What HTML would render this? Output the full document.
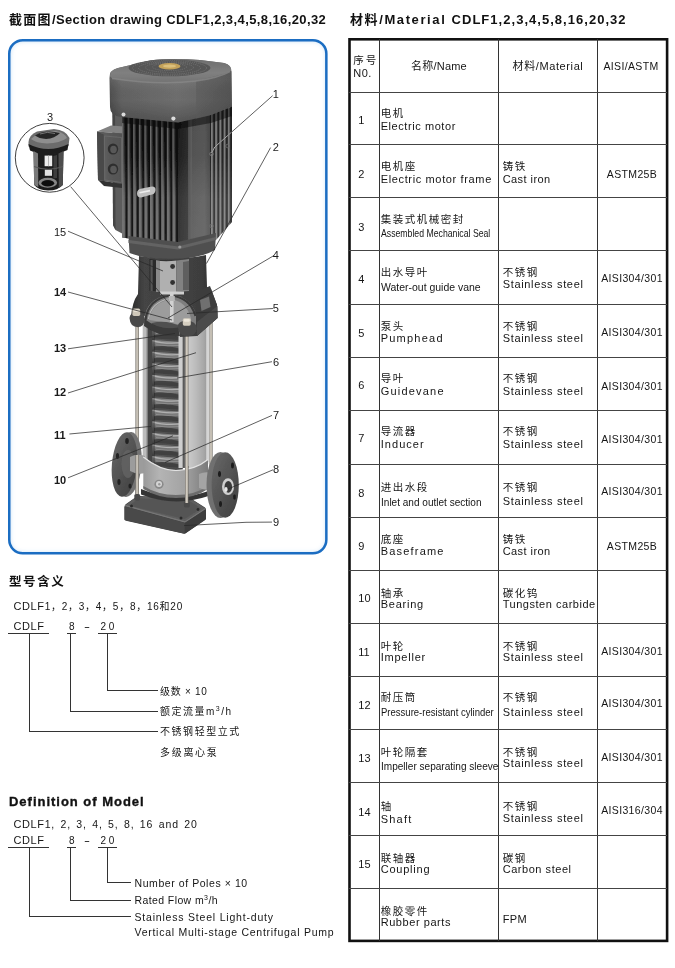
<!DOCTYPE html>
<html lang="zh">
<head>
<meta charset="utf-8">
<title>CDLF Section drawing / Material</title>
<style>
html,body{margin:0;padding:0;background:#fff;}
body{width:675px;height:968px;position:relative;overflow:hidden;color:#111;-webkit-font-smoothing:antialiased;
 font-family:"Liberation Sans","Noto Sans CJK SC",sans-serif;font-size:11px;}
.h1{position:absolute;white-space:nowrap;font-weight:bold;font-size:12.5px;line-height:16px;color:#111;}
#panel{position:absolute;left:9px;top:40px;width:317.5px;height:513.5px;border-radius:13px;background:#fff;box-shadow:inset 0 0 5px 1px rgba(90,160,225,.38);}
#pframe{position:absolute;left:0;top:30px;}
#pump{position:absolute;left:0;top:0;width:340px;height:560px;will-change:transform;}
#tblb{position:absolute;left:345px;top:35px;}
.vl{position:absolute;top:39px;height:902px;width:1px;background:#333;}
.hl{position:absolute;left:349px;width:318px;height:1px;background:#444;}
.c{position:absolute;white-space:nowrap;line-height:12px;font-size:11px;color:#151515;}
.c .zh{display:block;font-size:10.5px;letter-spacing:1.5px;line-height:12px;height:12px;}
.c .en{display:block;font-size:11px;letter-spacing:.55px;line-height:12px;height:12px;}
.c .nar{letter-spacing:0;font-size:11px;transform-origin:0 50%;width:140px;}
.ctr{text-align:center;}
.no{position:absolute;white-space:nowrap;font-size:11px;line-height:12px;color:#151515;}
.as{position:absolute;white-space:nowrap;font-size:10.5px;line-height:12px;color:#151515;letter-spacing:.35px;}
.lt{position:absolute;white-space:nowrap;font-size:11px;line-height:13px;color:#151515;}
.lh{position:absolute;white-space:nowrap;font-weight:bold;font-size:12.5px;line-height:15px;color:#111;}
.ln{position:absolute;background:#333;}
.gl{position:absolute;left:0;top:0;width:675px;height:968px;will-change:transform;}
sup{font-size:7px;line-height:0;vertical-align:4px;}
</style>
</head>
<body>
<div class="gl">
<div class="h1" id="t1" style="left:9px;top:12px;font-size:13px;letter-spacing:.4px;"><span style="letter-spacing:1.3px">截面图</span>/Section drawing CDLF1,2,3,4,5,8,16,20,32</div>
<div class="h1" id="t2" style="left:350px;top:12px;font-size:13px;letter-spacing:1.03px;"><span style="letter-spacing:1.6px">材料/Material </span>CDLF1,2,3,4,5,8,16,20,32</div>
</div>
<div id="panel"></div>
<svg id="pframe" width="340" height="535" viewBox="0 30 340 535"><rect x="9.25" y="40.25" width="317.1" height="513" rx="13.5" ry="13.5" fill="none" stroke="#1b6dc2" stroke-width="2.5"/></svg>
<svg id="pump" viewBox="0 0 340 560" width="340" height="560">
<defs>
 <linearGradient id="gCoverF" x1="0" y1="0" x2="1" y2="0">
  <stop offset="0" stop-color="#4e4e4e"/><stop offset=".1" stop-color="#626262"/><stop offset=".55" stop-color="#6e6e6e"/><stop offset="1" stop-color="#5e5e5e"/>
 </linearGradient>
 <linearGradient id="gCoverR" x1="0" y1="0" x2="1" y2="0">
  <stop offset="0" stop-color="#5a5a5a"/><stop offset="1" stop-color="#464646"/>
 </linearGradient>
 <linearGradient id="gCoverT" x1="0" y1="0" x2="0" y2="1">
  <stop offset="0" stop-color="#6e6e6e"/><stop offset=".6" stop-color="#808080"/><stop offset="1" stop-color="#747474"/>
 </linearGradient>
 <pattern id="fins" x="122" y="0" width="5.6" height="10" patternUnits="userSpaceOnUse">
  <rect width="5.6" height="10" fill="#0e0e0e"/><rect x="0" width="1.6" height="10" fill="#6a6a6a"/><rect x="1.6" width="0.8" height="10" fill="#3a3a3a"/>
 </pattern>
 <pattern id="finsR" x="211" y="0" width="4.2" height="10" patternUnits="userSpaceOnUse">
  <rect width="4.2" height="10" fill="#222"/><rect x="0" width="2" height="10" fill="#7c7c7c"/>
 </pattern>
 <linearGradient id="gPanel" x1="0" y1="0" x2="1" y2="0">
  <stop offset="0" stop-color="#1c1c1c"/><stop offset=".3" stop-color="#2a2a2a"/><stop offset=".42" stop-color="#505050"/><stop offset=".8" stop-color="#565656"/><stop offset="1" stop-color="#444"/>
 </linearGradient>
 <linearGradient id="gBox" x1="0" y1="0" x2="1" y2="0">
  <stop offset="0" stop-color="#4a4a4a"/><stop offset=".15" stop-color="#5e5e5e"/><stop offset="1" stop-color="#525252"/>
 </linearGradient>
 <linearGradient id="gStool" x1="0" y1="0" x2="1" y2="0">
  <stop offset="0" stop-color="#2c2c2c"/><stop offset=".15" stop-color="#444"/><stop offset=".8" stop-color="#3e3e3e"/><stop offset="1" stop-color="#2a2a2a"/>
 </linearGradient>
 <linearGradient id="gSteel" x1="0" y1="0" x2="1" y2="0">
  <stop offset="0" stop-color="#cacaca"/><stop offset=".35" stop-color="#bcbcbc"/><stop offset=".75" stop-color="#a8a8a8"/><stop offset="1" stop-color="#959595"/>
 </linearGradient>
 <linearGradient id="gRod" x1="0" y1="0" x2="1" y2="0">
  <stop offset="0" stop-color="#76726c"/><stop offset=".4" stop-color="#d2ccc2"/><stop offset=".7" stop-color="#c2bcb0"/><stop offset="1" stop-color="#66625c"/>
 </linearGradient>
 <linearGradient id="gCasing" x1="0" y1="0" x2="1" y2="0">
  <stop offset="0" stop-color="#9a9a9a"/><stop offset=".25" stop-color="#b4b4b4"/><stop offset=".65" stop-color="#a2a2a2"/><stop offset="1" stop-color="#7a7a7a"/>
 </linearGradient>
 <linearGradient id="gFlange" x1="0" y1="0" x2="1" y2="1">
  <stop offset="0" stop-color="#686868"/><stop offset="1" stop-color="#3e3e3e"/>
 </linearGradient>
 <linearGradient id="gStack" x1="0" y1="0" x2="1" y2="0">
  <stop offset="0" stop-color="#2a2a2a"/><stop offset=".5" stop-color="#555"/><stop offset="1" stop-color="#2e2e2e"/>
 </linearGradient>
 <filter id="soft" x="-5%" y="-5%" width="110%" height="110%"><feGaussianBlur stdDeviation="0.45"/></filter>

 <pattern id="fins2" x="122" y="0" width="5.6" height="10" patternUnits="userSpaceOnUse">
  <rect width="5.6" height="10" fill="#161616"/><rect x="0" width="3" height="10" fill="#747474"/><rect x="3" width=".8" height="10" fill="#4a4a4a"/>
 </pattern>
 <linearGradient id="gMaskFins" x1="0" y1="120" x2="0" y2="240" gradientUnits="userSpaceOnUse">
  <stop offset="0" stop-color="#000"/><stop offset=".3" stop-color="#222"/><stop offset=".65" stop-color="#ddd"/><stop offset="1" stop-color="#fff"/>
 </linearGradient>
 <mask id="mFins" maskUnits="userSpaceOnUse" x="100" y="100" width="150" height="160"><rect x="100" y="100" width="150" height="160" fill="url(#gMaskFins)"/></mask>
 <linearGradient id="gCoverV" x1="0" y1="80" x2="0" y2="120" gradientUnits="userSpaceOnUse">
  <stop offset="0" stop-color="#fff" stop-opacity=".08"/><stop offset=".5" stop-color="#000" stop-opacity="0"/><stop offset="1" stop-color="#000" stop-opacity=".2"/>
 </linearGradient>
<linearGradient id="gStage" x1="0" y1="0" x2="0" y2="1">
  <stop offset="0" stop-color="#8a8a8a"/><stop offset=".45" stop-color="#6c6c6c"/><stop offset="1" stop-color="#444"/>
 </linearGradient>
</defs>
<g filter="url(#soft)">
<g id="seal">
 <path d="M28.5 142 Q29 135 37 131.5 L54 129 Q66 130 69.5 138 L68.5 146 Q60 150.5 48 151 Q34 150.5 28.5 146.5 Z" fill="#6c6c6c"/>
 <path d="M31 139 Q40 131 56 131 Q65 133 67 138 Q60 143 47 143.5 Q36 143 31 139 Z" fill="#8e8e8e"/>
 <path d="M35 135.5 Q45 129 60 133 Q55 138.5 46 139 Q39 138.5 35 135.5 Z" fill="#262626"/>
 <path d="M40 134 Q47 131 55 133.5" stroke="#777" stroke-width="1" fill="none"/>
 <path d="M28.5 144 Q48 154 68.5 144 L67.5 150 Q48 159 30 150.5 Z" fill="#1e1e1e"/>
 <path d="M33.5 150 Q48 158 63.5 150 L62.8 185 Q58 190.5 48 190.5 Q38 190 34.2 185 Z" fill="#1c1c1c"/>
 <path d="M33.5 151 L38 153.5 L38.3 187 L34.2 185 Z" fill="#7a7a7a"/>
 <path d="M58.5 153.5 L63.5 151 L62.8 185 L58.8 188 Z" fill="#4e4e4e"/>
 <path d="M53.5 156 L57 155 L57 178 L53.5 178.5 Z" fill="#3e3e3e"/>
 <rect x="44.6" y="155.6" width="7.6" height="10.6" fill="#ececec"/>
 <rect x="48" y="155.6" width="1" height="10.6" fill="#b4b4b4"/>
 <rect x="44.8" y="169.6" width="7.2" height="6.2" fill="#e2e2e2"/>
 <path d="M34 166.5 Q48 172 63 166.5" stroke="#5a5a5a" stroke-width="1.1" fill="none"/>
 <ellipse cx="47.8" cy="182.8" rx="9.3" ry="5" fill="#868686"/>
 <ellipse cx="47.8" cy="183.2" rx="6.4" ry="3.2" fill="#101010"/>
</g>

<g id="motor">
 <!-- left side of motor body -->
 <path d="M112.5 110 L123 112 L123 234 L115.5 230 L113 225 Z" fill="#5c5c5c"/>
 <path d="M112.5 110 L115 110.5 L115.5 230 L113 225 Z" fill="#444"/>
 <!-- junction box -->
 <path d="M97 131.5 L111 125.5 L124 126.5 L122 133.5 Z" fill="#828282"/>
 <path d="M97 131.5 L122 133.5 L122 184 L98 180 Z" fill="url(#gBox)"/>
 <path d="M97 131.5 L103.8 134.5 L104 181 L98 180 Z" fill="#4a4a4a"/>
 <path d="M104.5 136 L121.5 137.5 L121.5 182.5 L104.8 180 Z" fill="none" stroke="#6c6c6c" stroke-width=".8"/>
 <path d="M98 180 L122 184 L122 188 L104 186 Z" fill="#333"/>
 <ellipse cx="113" cy="149" rx="5.2" ry="5.6" fill="#2e2e2e"/>
 <ellipse cx="113" cy="169" rx="5.2" ry="5.6" fill="#2e2e2e"/>
 <ellipse cx="113.5" cy="149.5" rx="3.3" ry="3.7" fill="#585858"/>
 <ellipse cx="113.5" cy="169.5" rx="3.3" ry="3.7" fill="#585858"/>
 <!-- body: left fins -->
 <path d="M122 112 L178 118 L178 245 L122 237.5 Z" fill="url(#fins)"/>
 <path d="M122 112 L178 118 L178 245 L122 237.5 Z" fill="url(#fins2)" mask="url(#mFins)"/>
 <!-- centre panel -->
 <path d="M178 118 L211 112 L211 239 L178 245 Z" fill="url(#gPanel)"/>
 <path d="M178 118 L211 112 L211 239 L178 245 Z" fill="#fff" opacity=".12" mask="url(#mFins)"/>
 <rect x="188" y="116" width="4" height="127" fill="#6a6a6a" opacity=".55"/>
 <!-- right fins -->
 <path d="M210 112 L232 105 L232 222 L216 240 L210 241 Z" fill="url(#finsR)"/>
 <path d="M210 112 L232 105 L232 222 L216 240 L210 241 Z" fill="#fff" opacity=".12" mask="url(#mFins)"/>
 <!-- shadow under cover -->
 <path d="M122 114 L178 120 L211 114 L232 107 L232 116 L211 123 L178 129 L122 123 Z" fill="#000" opacity=".45"/>
 <!-- cover -->
 <path d="M109.5 78 Q109 70 118 68 L150 60.5 Q170 58 200 60 L224 63 Q231.5 65 231.5 72 L232 106.5 L211 115 L178 122.5 L121 117 Q110 115.5 110 107 Z" fill="url(#gCoverF)"/>
 <path d="M109.5 78 Q109 70 118 68 L150 60.5 Q170 58 200 60 L224 63 Q231.5 65 231.5 72 L232 106.5 L211 115 L178 122.5 L121 117 Q110 115.5 110 107 Z" fill="url(#gCoverV)"/>
 <path d="M196 81 L231.5 71 L232 106.5 L211 115 L196 118.7 Z" fill="url(#gCoverR)" opacity=".5"/>
 <path d="M110 76 Q110 70 118 68 L150 60.5 Q170 58 200 60 L224 63 Q232 65 231 70.5 Q218 77 196 80 Q160 84 120 79.5 Q110 78.5 110 76 Z" fill="url(#gCoverT)"/>
 <path d="M112 78.5 Q160 85.5 196 81 Q218 78 230 71.5" fill="none" stroke="#8a8a8a" stroke-width="1.6" opacity=".7"/>
 <ellipse cx="169.5" cy="68" rx="41" ry="8.3" fill="#565656"/>
 <ellipse cx="169.5" cy="68" rx="37" ry="7.4" fill="none" stroke="#7a7a7a" stroke-width=".7" stroke-dasharray="1.2 1"/>
 <ellipse cx="169.5" cy="68" rx="31" ry="6.2" fill="none" stroke="#7a7a7a" stroke-width=".7" stroke-dasharray="1.2 1"/>
 <ellipse cx="169.5" cy="67.5" rx="24" ry="4.8" fill="none" stroke="#787878" stroke-width=".7" stroke-dasharray="1.2 1"/>
 <ellipse cx="169.5" cy="67" rx="17" ry="3.6" fill="none" stroke="#787878" stroke-width=".7" stroke-dasharray="1.2 1"/>
 <ellipse cx="169.5" cy="66.3" rx="11" ry="3.2" fill="#c4a25a"/>
 <ellipse cx="169.5" cy="66.1" rx="6.5" ry="1.7" fill="#dcc07c"/>
 <circle cx="123.5" cy="114.6" r="2" fill="#dcdcdc"/><circle cx="173.4" cy="118.6" r="2.1" fill="#dcdcdc"/>
 <!-- lifting eye -->
 <path d="M137 193.5 Q137 189 142 188.5 L152 186.5 Q156 186.5 155.5 190.5 Q155 194.5 150 195 L141 197.5 Q137 197.5 137 193.5 Z" fill="#c0c0c0"/>
 <path d="M139.5 192.8 L150 190.6" stroke="#ececec" stroke-width="1.6"/>
 <circle cx="211.5" cy="154" r="1.7" fill="none" stroke="#808080" stroke-width=".8"/>
 <circle cx="227.5" cy="146" r="1.7" fill="none" stroke="#707070" stroke-width=".8"/>
 <circle cx="211.5" cy="226" r="1.7" fill="none" stroke="#707070" stroke-width=".8"/>
</g>

<g id="cyl">
 <!-- outer wall left + cutaway -->
 <rect x="142.7" y="320" width="5" height="142" fill="#bcbcbc"/>
 <rect x="146.6" y="320" width="2" height="142" fill="#7c7c7c"/>
 <rect x="148" y="322" width="4.3" height="142" fill="#444"/>
 <!-- stack -->
 <rect x="152" y="324" width="30.7" height="146" fill="#585858"/>
 <path d="M152 328.5 L182.5 330.5 L182.5 342.1 L152 340.1 Z" fill="url(#gStage)"/>
 <path d="M154 335.0 Q166 333.0 181 337.1 L181 340.1 L154 338.5 Z" fill="#3a3a3a" opacity=".8"/>
 <path d="M152.5 329.0 Q164 332.7 182 331.1" stroke="#b0b0b0" stroke-width="1.3" fill="none"/>
 <path d="M156 333.3 Q168 334.7 180 333.8" stroke="#8e8e8e" stroke-width="1" fill="none"/>
 <path d="M152 340.1 L182.5 342.1 L182.5 353.7 L152 351.7 Z" fill="url(#gStage)"/>
 <path d="M154 346.6 Q166 344.6 181 348.7 L181 351.7 L154 350.1 Z" fill="#3a3a3a" opacity=".8"/>
 <path d="M152.5 340.6 Q164 344.3 182 342.7" stroke="#b0b0b0" stroke-width="1.3" fill="none"/>
 <path d="M156 344.9 Q168 346.3 180 345.4" stroke="#8e8e8e" stroke-width="1" fill="none"/>
 <path d="M152 351.7 L182.5 353.7 L182.5 365.3 L152 363.3 Z" fill="url(#gStage)"/>
 <path d="M154 358.2 Q166 356.2 181 360.3 L181 363.3 L154 361.7 Z" fill="#3a3a3a" opacity=".8"/>
 <path d="M152.5 352.2 Q164 355.9 182 354.3" stroke="#b0b0b0" stroke-width="1.3" fill="none"/>
 <path d="M156 356.5 Q168 357.9 180 357.0" stroke="#8e8e8e" stroke-width="1" fill="none"/>
 <path d="M152 363.3 L182.5 365.3 L182.5 376.9 L152 374.9 Z" fill="url(#gStage)"/>
 <path d="M154 369.8 Q166 367.8 181 371.9 L181 374.9 L154 373.3 Z" fill="#3a3a3a" opacity=".8"/>
 <path d="M152.5 363.8 Q164 367.5 182 365.9" stroke="#b0b0b0" stroke-width="1.3" fill="none"/>
 <path d="M156 368.1 Q168 369.5 180 368.6" stroke="#8e8e8e" stroke-width="1" fill="none"/>
 <path d="M152 374.9 L182.5 376.9 L182.5 388.5 L152 386.5 Z" fill="url(#gStage)"/>
 <path d="M154 381.4 Q166 379.4 181 383.5 L181 386.5 L154 384.9 Z" fill="#3a3a3a" opacity=".8"/>
 <path d="M152.5 375.4 Q164 379.1 182 377.5" stroke="#b0b0b0" stroke-width="1.3" fill="none"/>
 <path d="M156 379.7 Q168 381.1 180 380.2" stroke="#8e8e8e" stroke-width="1" fill="none"/>
 <path d="M152 386.5 L182.5 388.5 L182.5 400.1 L152 398.1 Z" fill="url(#gStage)"/>
 <path d="M154 393.0 Q166 391.0 181 395.1 L181 398.1 L154 396.5 Z" fill="#3a3a3a" opacity=".8"/>
 <path d="M152.5 387.0 Q164 390.7 182 389.1" stroke="#b0b0b0" stroke-width="1.3" fill="none"/>
 <path d="M156 391.3 Q168 392.7 180 391.8" stroke="#8e8e8e" stroke-width="1" fill="none"/>
 <path d="M152 398.1 L182.5 400.1 L182.5 411.7 L152 409.7 Z" fill="url(#gStage)"/>
 <path d="M154 404.6 Q166 402.6 181 406.7 L181 409.7 L154 408.1 Z" fill="#3a3a3a" opacity=".8"/>
 <path d="M152.5 398.6 Q164 402.3 182 400.7" stroke="#b0b0b0" stroke-width="1.3" fill="none"/>
 <path d="M156 402.9 Q168 404.3 180 403.4" stroke="#8e8e8e" stroke-width="1" fill="none"/>
 <path d="M152 409.7 L182.5 411.7 L182.5 423.3 L152 421.3 Z" fill="url(#gStage)"/>
 <path d="M154 416.2 Q166 414.2 181 418.3 L181 421.3 L154 419.7 Z" fill="#3a3a3a" opacity=".8"/>
 <path d="M152.5 410.2 Q164 413.9 182 412.3" stroke="#b0b0b0" stroke-width="1.3" fill="none"/>
 <path d="M156 414.5 Q168 415.9 180 415.0" stroke="#8e8e8e" stroke-width="1" fill="none"/>
 <path d="M152 421.3 L182.5 423.3 L182.5 434.9 L152 432.9 Z" fill="url(#gStage)"/>
 <path d="M154 427.8 Q166 425.8 181 429.9 L181 432.9 L154 431.3 Z" fill="#3a3a3a" opacity=".8"/>
 <path d="M152.5 421.8 Q164 425.5 182 423.9" stroke="#b0b0b0" stroke-width="1.3" fill="none"/>
 <path d="M156 426.1 Q168 427.5 180 426.6" stroke="#8e8e8e" stroke-width="1" fill="none"/>
 <path d="M152 432.9 L182.5 434.9 L182.5 446.5 L152 444.5 Z" fill="url(#gStage)"/>
 <path d="M154 439.4 Q166 437.4 181 441.5 L181 444.5 L154 442.9 Z" fill="#3a3a3a" opacity=".8"/>
 <path d="M152.5 433.4 Q164 437.1 182 435.5" stroke="#b0b0b0" stroke-width="1.3" fill="none"/>
 <path d="M156 437.7 Q168 439.1 180 438.2" stroke="#8e8e8e" stroke-width="1" fill="none"/>
 <path d="M152 444.5 L182.5 446.5 L182.5 458.1 L152 456.1 Z" fill="url(#gStage)"/>
 <path d="M154 451.0 Q166 449.0 181 453.1 L181 456.1 L154 454.5 Z" fill="#3a3a3a" opacity=".8"/>
 <path d="M152.5 445.0 Q164 448.7 182 447.1" stroke="#b0b0b0" stroke-width="1.3" fill="none"/>
 <path d="M156 449.3 Q168 450.7 180 449.8" stroke="#8e8e8e" stroke-width="1" fill="none"/>
 <path d="M152 456.1 L182.5 458.1 L182.5 469.7 L152 467.7 Z" fill="url(#gStage)"/>
 <path d="M154 462.6 Q166 460.6 181 464.7 L181 467.7 L154 466.1 Z" fill="#3a3a3a" opacity=".8"/>
 <path d="M152.5 456.6 Q164 460.3 182 458.7" stroke="#b0b0b0" stroke-width="1.3" fill="none"/>
 <path d="M156 460.9 Q168 462.3 180 461.4" stroke="#8e8e8e" stroke-width="1" fill="none"/>
 <rect x="152" y="324" width="3" height="146" fill="#000" opacity=".25"/>
 <!-- cut edge + sleeve (stainless) right part -->
 <rect x="178.5" y="328" width="4.4" height="140" fill="#cecece"/>
 <rect x="182.7" y="328" width="2.2" height="140" fill="#5a5a5a"/>
 <path d="M188.5 334 L208.6 322 L208.6 462 L188.5 470 Z" fill="url(#gSteel)"/>
 <rect x="206.2" y="326" width="2.6" height="138" fill="#e2e2e2" opacity=".8"/>
 <!-- tie rods -->
 <rect x="135.4" y="322" width="3.5" height="172" fill="url(#gRod)"/>
 <rect x="185" y="334" width="3.5" height="168" fill="url(#gRod)"/>
 <rect x="209.4" y="318" width="3.2" height="148" fill="url(#gRod)"/>
</g>
<g id="stool">
 <!-- motor flange -->
 <path d="M128.5 236 L178 242 L216 233 L215 250 Q200 258.5 172 259.5 Q145 259 129.5 253 Z" fill="#505050"/>
 <path d="M128.5 240 L178 246.5 L216 237 L216 240 L178 249.5 L128.5 243 Z" fill="#646464"/>
 <circle cx="179.8" cy="247" r="1.6" fill="#9a9a9a"/>
 <!-- stool + pump head body -->
 <path d="M139 256 Q172 262 206 255 L207 287 L211 289 L217 305 L217.5 318 L197 336 L180 337 L178 322 L146 316 L131 318 Q132 302 138 294 Z" fill="url(#gStool)"/>
 <!-- window -->
 <path d="M149.5 259 Q170 262 189 259 L189 290 L149.5 291 Z" fill="#2a2a2a"/>
 <rect x="150.5" y="260" width="2.2" height="31" fill="#555"/>
 <path d="M156 260.5 Q166 262 176.5 260.5 L176.5 292 L156 292 Z" fill="#b0b0b0"/>
 <path d="M156 260.5 L160 261 L160 292 L156 292 Z" fill="#8a8a8a"/>
 <path d="M176.5 260.5 L189 259 L189 291 L176.5 292 Z" fill="#828282"/>
 <path d="M183 262 L189 261 L189 290 L183 290 Z" fill="#5e5e5e"/>
 <circle cx="172.6" cy="266.5" r="2.4" fill="#333"/><circle cx="172.6" cy="282.5" r="2.4" fill="#333"/>
 <!-- pump head interior (cutaway arch) -->
 <path d="M144 320 Q146 298 170 294.5 Q190 296 196 314 L196 330 L144 324 Z" fill="#7e7e7e"/>
 <path d="M149 320 Q152 302 171 299.5 Q186 301 191 318 L191 326 Z" fill="#9c9c9c"/>
 <path d="M145.5 320 Q148 299 170 295.5 Q190 297 195.5 316" fill="none" stroke="#3a3a3a" stroke-width="2.2"/>
 <path d="M148.5 319 Q151 302 170 298.5" fill="none" stroke="#b8b8b8" stroke-width="1.2"/>
 <path d="M160 291.5 L184 291.5 L184 294.5 L160 294.5 Z" fill="#cfcfcf"/>
 <rect x="170" y="292" width="3.6" height="30" fill="#d2d2d2"/>
 <rect x="168.8" y="296" width="6" height="5" fill="#b8b8b8"/>
 <path d="M152 323 Q166 319 182 327 L182 331 L152 327 Z" fill="#505050"/>
 <!-- right block of pump head -->
 <path d="M196 292 L210 286 L217 305 L217.5 318 L197 336 Z" fill="#3e3e3e"/>
 <path d="M200 300 L209 296.5 L210.5 307 L201.5 311 Z" fill="#707070"/>
 <path d="M197 322 L217.5 306 L217.5 318 L197 336 Z" fill="#4c4c4c"/>
 <!-- flange lugs -->
 <path d="M129.5 318 Q130 312.5 137 312 Q144 312.5 144.8 319 Q144.5 326.5 138 327.3 Q130 327 129.5 318 Z" fill="#4a4a4a"/>
 <path d="M177.5 327 Q178 320.5 187 320.5 Q196 321 196.8 328 Q196.5 335.5 188 336.3 Q178.5 336 177.5 327 Z" fill="#4a4a4a"/>
 <path d="M144.5 319 Q160 331 178 327.5 L180 336 Q160 338 144 326 Z" fill="#3a3a3a"/>
 <rect x="132.4" y="308.5" width="7.8" height="7.4" rx="1.6" fill="#cfc8ba"/>
 <rect x="133.4" y="309.3" width="5.8" height="2.6" rx="1.2" fill="#e6e0d4"/>
 <rect x="182.8" y="318.3" width="8" height="7.4" rx="1.6" fill="#d4cdbf"/>
 <rect x="183.8" y="319.1" width="6" height="2.6" rx="1.2" fill="#ece6da"/>
</g>

<g id="bottom">
 <!-- left flange -->
 <ellipse cx="128.5" cy="464.5" rx="13" ry="32.5" fill="#727272" transform="rotate(5 128.5 464.5)"/>
 <ellipse cx="124.5" cy="464.5" rx="12.6" ry="32.3" fill="url(#gFlange)" transform="rotate(5 124.5 464.5)"/>
 <ellipse cx="128" cy="464" rx="6.5" ry="14" fill="#666" opacity=".7"/>
 <ellipse cx="127" cy="441" rx="1.8" ry="3" fill="#222"/><ellipse cx="117.5" cy="456" rx="1.6" ry="3" fill="#222"/>
 <ellipse cx="119" cy="482" rx="1.6" ry="3" fill="#222"/><ellipse cx="130" cy="486" rx="1.6" ry="2.6" fill="#222"/>
 <!-- left neck -->
 <path d="M130 457 Q137 453 145 456 L145 473 Q137 475 130 471 Z" fill="#9c9c9c"/>
 <!-- base plate -->
 <path d="M124.5 507 Q124.5 505 126 504 L136 497 Q137 496 139 496 L190 498 L205 507.5 Q206 508.5 206 510 L206 518 Q206 519.5 204.5 520.5 L186 533 Q184.5 534 183 533.5 L126 520.8 Q124.5 520.3 124.5 519 Z" fill="#404040"/>
 <path d="M125 505.5 L137 496.5 L190 498 L205.5 508.5 L185 522 Z" fill="#5e5e5e"/>
 <path d="M129 505.5 L139 498.5 L188 500 L201 508.5 L184.5 519 Z" fill="#555"/>
 <path d="M125 505.5 L185 522 L205.5 508.5" fill="none" stroke="#757575" stroke-width="1.3"/>
 <path d="M124.5 506.5 L184.8 523 L184.8 533.8 L124.5 520 Z" fill="#4a4a4a"/>
 <path d="M184.8 523 L206 509.5 L206 519 L184.8 533.8 Z" fill="#3c3c3c"/>
 <!-- dark foot ring -->
 <path d="M141 489 Q175 503 208.5 491 L208.5 496 Q175 507.5 141 494.5 Z" fill="#363636"/>
 <circle cx="131.5" cy="506" r="1.5" fill="#2a2a2a"/><circle cx="181" cy="518" r="1.5" fill="#2a2a2a"/><circle cx="198" cy="509.5" r="1.4" fill="#2a2a2a"/>
 <rect x="134.3" y="494" width="5.8" height="6.5" rx="1.5" fill="#4a4a4a"/>
 <rect x="183.8" y="501" width="6" height="6.5" rx="1.5" fill="#4a4a4a"/>
 <!-- casing ring -->
 <path d="M143.3 457 Q160 470.5 176 470.5 Q195 470 208 459.5 L208 488 Q195 497 176 497 Q158 497 143.3 488 Z" fill="url(#gCasing)"/>
 <path d="M143.3 457 Q160 470.5 176 470.5 Q195 470 208 459.5" fill="none" stroke="#e4e4e4" stroke-width="1.2"/>
 <path d="M143.3 486 Q158 495 176 495 Q195 495 208 486 L208 489 Q195 498 176 498 Q158 498 143.3 489 Z" fill="#6c6c6c"/>
 <!-- drain plug -->
 <circle cx="159" cy="484.3" r="4.6" fill="#8a8a8a"/><circle cx="159" cy="484" r="3" fill="#d4d4d4"/><circle cx="159.3" cy="484.2" r="1.2" fill="#999"/>
 <!-- rods over casing -->
 <rect x="135.4" y="455" width="3.5" height="39" fill="url(#gRod)"/>
 <rect x="185" y="466" width="3.5" height="37" fill="url(#gRod)"/>
 <!-- right neck -->
 <path d="M199 474 Q205 471 212 473 L212 489 Q205 491 199 488 Z" fill="#a4a4a4"/>
 <!-- right flange -->
 <ellipse cx="220.5" cy="485" rx="14" ry="33" fill="#707070"/>
 <ellipse cx="225.2" cy="485" rx="13.6" ry="32.8" fill="url(#gFlange)"/>
 <ellipse cx="228" cy="486.7" rx="6" ry="8.4" fill="#cfcfcf"/>
 <ellipse cx="228.3" cy="486.9" rx="3.8" ry="5.8" fill="#3a3a3a"/>
 <ellipse cx="226" cy="489.5" rx="1.6" ry="2.4" fill="#e8e8e8"/>
 <ellipse cx="232.5" cy="465.5" rx="1.5" ry="3" fill="#1e1e1e"/><ellipse cx="219.5" cy="474" rx="1.5" ry="3" fill="#1e1e1e"/>
 <ellipse cx="220.5" cy="504" rx="1.5" ry="3" fill="#1e1e1e"/><ellipse cx="234.5" cy="497" rx="1.4" ry="2.8" fill="#1e1e1e"/>
</g>
</g>
<g id="leaders" stroke="#2a2a2a" stroke-width=".75" fill="none">
 <circle cx="49.7" cy="157.8" r="34.4" stroke-width=".9"/>
 <path d="M70.7 186.7 L172 307"/>
 <path d="M272.6 95.7 L214.8 147 L211 154"/>
 <path d="M231.5 132.2 L214.8 147 L211.5 153" stroke="#c8c8c8" stroke-width=".8"/>
 <path d="M270.6 147.6 L206.5 263.5"/>
 <path d="M68 231.2 L163 271"/>
 <path d="M274 255.5 L168 318"/>
 <path d="M68 292 L172 320"/>
 <path d="M273 308.5 L187 313.5"/>
 <path d="M68 348.8 L175 333.5"/>
 <path d="M272 361.7 L177 378"/>
 <path d="M68 393 L196 352.7"/>
 <path d="M69.4 434 L151 426.4"/>
 <path d="M272 415.4 L165 462.5"/>
 <path d="M68 477.8 L173 435.8"/>
 <path d="M273 469.8 L228 489"/>
 <path d="M272 522.1 L246 522.3 L184 525.6"/>
</g>
<g id="labels" font-family="Liberation Sans, sans-serif" font-size="11" fill="#1a1a1a">
 <text x="47" y="120.5">3</text>
 <text x="272.8" y="98">1</text>
 <text x="272.8" y="151">2</text>
 <text x="272.8" y="258.8">4</text>
 <text x="272.8" y="312">5</text>
 <text x="273" y="365.5">6</text>
 <text x="273" y="419">7</text>
 <text x="273" y="473">8</text>
 <text x="273" y="525.5">9</text>
 <text x="54" y="235.5">15</text>
 <text x="54" y="295.9" font-weight="bold">14</text>
 <text x="54" y="352" font-weight="bold">13</text>
 <text x="54" y="395.5" font-weight="bold">12</text>
 <text x="54" y="438.5" font-weight="bold">11</text>
 <text x="54" y="483.5" font-weight="bold">10</text>
</g>
</svg>
<div class="gl">
<div class="lh" id="lh1" style="left:9px;top:575px;letter-spacing:1.6px;">型号含义</div>
<div class="lt" id="l1" style="left:13.5px;top:600px;"><span style="font-size:11px;letter-spacing:.6px">CDLF</span><span style="font-size:10px;letter-spacing:.75px">1，2，3，4，5，8，16和20</span></div>
<div class="lt" id="l2a" style="left:13.5px;top:619.5px;letter-spacing:.6px;">CDLF</div>
<div class="lt" id="l2b" style="left:69px;top:619.5px;font-size:10px;">8</div>
<div class="lt" id="l2c" style="transform:scaleX(1.8);transform-origin:0 50%;left:84px;top:619.5px;font-size:10px;">-</div>
<div class="lt" id="l2d" style="left:100.5px;top:619.5px;font-size:10px;letter-spacing:2.6px;">20</div>
<div class="ln" style="left:7.5px;top:633px;width:41.5px;height:1px;"></div>
<div class="ln" style="left:67px;top:633px;width:9px;height:1px;"></div>
<div class="ln" style="left:98px;top:633px;width:19px;height:1px;"></div>
<div class="ln" style="left:28.5px;top:633px;width:1px;height:98.5px;"></div>
<div class="ln" style="left:70px;top:633px;width:1px;height:78px;"></div>
<div class="ln" style="left:106.5px;top:633px;width:1px;height:57.5px;"></div>
<div class="ln" style="left:106.5px;top:690px;width:51px;height:1px;"></div>
<div class="ln" style="left:70px;top:710.5px;width:87.5px;height:1px;"></div>
<div class="ln" style="left:28.5px;top:731px;width:129px;height:1px;"></div>
<div class="lt" id="l3" style="left:160px;top:684.5px;font-size:10px;letter-spacing:.7px;">级数 × 10</div>
<div class="lt" id="l4" style="left:160px;top:704.5px;font-size:10px;letter-spacing:1.5px;">额定流量m<sup>3</sup>/h</div>
<div class="lt" id="l5" style="left:160px;top:725px;font-size:10px;letter-spacing:1.55px;">不锈钢轻型立式</div>
<div class="lt" id="l6" style="left:160px;top:745.5px;font-size:10px;letter-spacing:1.7px;">多级离心泵</div>

<div class="lh" id="lh2" style="left:9px;top:793.5px;font-size:13px;letter-spacing:.98px;-webkit-text-stroke:.35px #111;">Definition of Model</div>
<div class="lt" id="e1" style="left:13.5px;top:818px;"><span style="font-size:11px;letter-spacing:.6px">CDLF</span><span style="font-size:10.5px;letter-spacing:.9px;word-spacing:1.5px">1, 2, 3, 4, 5, 8, 16 and 20</span></div>
<div class="lt" id="e2a" style="left:13.5px;top:833.5px;letter-spacing:.6px;">CDLF</div>
<div class="lt" id="e2b" style="left:69px;top:833.5px;font-size:10px;">8</div>
<div class="lt" id="e2c" style="transform:scaleX(1.8);transform-origin:0 50%;left:84px;top:833.5px;font-size:10px;">-</div>
<div class="lt" id="e2d" style="left:100.5px;top:833.5px;font-size:10px;letter-spacing:2.6px;">20</div>
<div class="ln" style="left:7.5px;top:846.5px;width:41.5px;height:1px;"></div>
<div class="ln" style="left:67px;top:846.5px;width:9px;height:1px;"></div>
<div class="ln" style="left:98px;top:846.5px;width:19px;height:1px;"></div>
<div class="ln" style="left:28.5px;top:846.5px;width:1px;height:70px;"></div>
<div class="ln" style="left:70px;top:846.5px;width:1px;height:53.5px;"></div>
<div class="ln" style="left:106.5px;top:846.5px;width:1px;height:36px;"></div>
<div class="ln" style="left:106.5px;top:882px;width:24.5px;height:1px;"></div>
<div class="ln" style="left:70px;top:899.5px;width:61px;height:1px;"></div>
<div class="ln" style="left:28.5px;top:916px;width:102.5px;height:1px;"></div>
<div class="lt" id="e3" style="left:134.5px;top:876.5px;font-size:10.5px;letter-spacing:.57px;">Number of Poles × 10</div>
<div class="lt" id="e4" style="left:134.5px;top:893.5px;font-size:10.5px;letter-spacing:.4px;">Rated Flow m<sup>3</sup>/h</div>
<div class="lt" id="e5" style="left:134.5px;top:910.5px;font-size:10.5px;letter-spacing:.8px;">Stainless Steel Light-duty</div>
<div class="lt" id="e6" style="left:134.5px;top:926px;font-size:10.5px;letter-spacing:.73px;">Vertical Multi-stage Centrifugal Pump</div>

</div>
<svg id="tblb" width="330" height="915" viewBox="0 0 330 915"><rect x="4.5" y="4.3" width="317.6" height="901.6" fill="none" stroke="#111" stroke-width="2.6"/></svg>
<div class="gl">
<div class="vl" style="left:379.0px"></div>
<div class="vl" style="left:497.9px"></div>
<div class="vl" style="left:596.9px"></div>
<div class="hl" style="top:91.8px"></div>
<div class="hl" style="top:144.4px"></div>
<div class="hl" style="top:197.2px"></div>
<div class="hl" style="top:250.3px"></div>
<div class="hl" style="top:303.9px"></div>
<div class="hl" style="top:357.1px"></div>
<div class="hl" style="top:410.4px"></div>
<div class="hl" style="top:463.5px"></div>
<div class="hl" style="top:516.5px"></div>
<div class="hl" style="top:569.6px"></div>
<div class="hl" style="top:622.9px"></div>
<div class="hl" style="top:675.7px"></div>
<div class="hl" style="top:728.5px"></div>
<div class="hl" style="top:781.6px"></div>
<div class="hl" style="top:834.9px"></div>
<div class="hl" style="top:888.2px"></div>
<div class="c" style="left:353.2px;top:53.6px;"><span class="zh" style="letter-spacing:2px">序号</span><span class="en" style="margin-top:1px">N0.</span></div>
<div class="c ctr" style="left:380px;width:118px;top:59.8px;letter-spacing:.2px">名称/Name</div>
<div class="c ctr" style="left:499px;width:98px;top:59.8px;letter-spacing:.6px">材料/Material</div>
<div class="as ctr" style="left:597px;width:68px;top:60px;">AISI/ASTM</div>
<div class="no" style="left:358.3px;top:113.5px;">1</div>
<div class="c" style="left:380.7px;top:107.0px;"><span class="zh">电机</span></div>
<div class="c" style="left:380.7px;top:119.7px;"><span class="en" style="letter-spacing:0.57px">Electric motor</span></div>
<div class="no" style="left:358.3px;top:167.8px;">2</div>
<div class="c" style="left:380.7px;top:160.3px;"><span class="zh">电机座</span></div>
<div class="c" style="left:380.7px;top:172.5px;"><span class="en" style="letter-spacing:0.64px">Electric motor frame</span></div>
<div class="c" style="left:502.7px;top:160.3px;"><span class="zh">铸铁</span></div>
<div class="c" style="left:502.7px;top:172.5px;"><span class="en" style="letter-spacing:0.43px">Cast iron</span></div>
<div class="as ctr" style="left:598px;width:68px;top:167.8px;">ASTM25B</div>
<div class="no" style="left:358.3px;top:220.6px;">3</div>
<div class="c" style="left:380.7px;top:212.9px;"><span class="zh">集装式机械密封</span></div>
<div class="c" style="left:380.7px;top:226.6px;"><span class="en nar" style="transform:scaleX(0.791)">Assembled Mechanical Seal</span></div>
<div class="no" style="left:358.3px;top:272.8px;">4</div>
<div class="c" style="left:380.7px;top:266.2px;"><span class="zh">出水导叶</span></div>
<div class="c" style="left:380.7px;top:280.6px;"><span class="en nar" style="transform:scaleX(0.951)">Water-out guide vane</span></div>
<div class="c" style="left:502.7px;top:266.2px;"><span class="zh">不锈钢</span></div>
<div class="c" style="left:502.7px;top:278.1px;"><span class="en" style="letter-spacing:0.66px">Stainless steel</span></div>
<div class="as ctr" style="left:598px;width:68px;top:272.3px;">AISI304/301</div>
<div class="no" style="left:358.3px;top:327.2px;">5</div>
<div class="c" style="left:380.7px;top:319.7px;"><span class="zh">泵头</span></div>
<div class="c" style="left:380.7px;top:331.7px;"><span class="en" style="letter-spacing:1.23px">Pumphead</span></div>
<div class="c" style="left:502.7px;top:319.7px;"><span class="zh">不锈钢</span></div>
<div class="c" style="left:502.7px;top:331.7px;"><span class="en" style="letter-spacing:0.66px">Stainless steel</span></div>
<div class="as ctr" style="left:598px;width:68px;top:325.9px;">AISI304/301</div>
<div class="no" style="left:358.3px;top:379.3px;">6</div>
<div class="c" style="left:380.7px;top:372.3px;"><span class="zh">导叶</span></div>
<div class="c" style="left:380.7px;top:385.1px;"><span class="en" style="letter-spacing:1.20px">Guidevane</span></div>
<div class="c" style="left:502.7px;top:372.3px;"><span class="zh">不锈钢</span></div>
<div class="c" style="left:502.7px;top:385.1px;"><span class="en" style="letter-spacing:0.66px">Stainless steel</span></div>
<div class="as ctr" style="left:598px;width:68px;top:379.5px;">AISI304/301</div>
<div class="no" style="left:358.3px;top:432.2px;">7</div>
<div class="c" style="left:380.7px;top:425.1px;"><span class="zh">导流器</span></div>
<div class="c" style="left:380.7px;top:437.7px;"><span class="en" style="letter-spacing:1.05px">Inducer</span></div>
<div class="c" style="left:502.7px;top:425.1px;"><span class="zh">不锈钢</span></div>
<div class="c" style="left:502.7px;top:437.7px;"><span class="en" style="letter-spacing:0.66px">Stainless steel</span></div>
<div class="as ctr" style="left:598px;width:68px;top:432.6px;">AISI304/301</div>
<div class="no" style="left:358.3px;top:487.1px;">8</div>
<div class="c" style="left:380.7px;top:481.3px;"><span class="zh">进出水段</span></div>
<div class="c" style="left:380.7px;top:495.9px;"><span class="en nar" style="transform:scaleX(0.913)">Inlet and outlet section</span></div>
<div class="c" style="left:502.7px;top:481.3px;"><span class="zh">不锈钢</span></div>
<div class="c" style="left:502.7px;top:494.9px;"><span class="en" style="letter-spacing:0.66px">Stainless steel</span></div>
<div class="as ctr" style="left:598px;width:68px;top:484.9px;">AISI304/301</div>
<div class="no" style="left:358.3px;top:539.6px;">9</div>
<div class="c" style="left:380.7px;top:533.4px;"><span class="zh">底座</span></div>
<div class="c" style="left:380.7px;top:544.8px;"><span class="en" style="letter-spacing:1.20px">Baseframe</span></div>
<div class="c" style="left:502.7px;top:533.4px;"><span class="zh">铸铁</span></div>
<div class="c" style="left:502.7px;top:544.8px;"><span class="en" style="letter-spacing:0.43px">Cast iron</span></div>
<div class="as ctr" style="left:598px;width:68px;top:539.5px;">ASTM25B</div>
<div class="no" style="left:358.3px;top:591.8px;">10</div>
<div class="c" style="left:380.7px;top:586.7px;"><span class="zh">轴承</span></div>
<div class="c" style="left:380.7px;top:598.2px;"><span class="en" style="letter-spacing:0.76px">Bearing</span></div>
<div class="c" style="left:502.7px;top:586.7px;"><span class="zh">碳化钨</span></div>
<div class="c" style="left:502.7px;top:598.2px;"><span class="en" style="letter-spacing:0.53px">Tungsten carbide</span></div>
<div class="no" style="left:358.3px;top:646.3px;">11</div>
<div class="c" style="left:380.7px;top:640.0px;"><span class="zh">叶轮</span></div>
<div class="c" style="left:380.7px;top:651.2px;"><span class="en" style="letter-spacing:0.77px">Impeller</span></div>
<div class="c" style="left:502.7px;top:640.0px;"><span class="zh">不锈钢</span></div>
<div class="c" style="left:502.7px;top:651.2px;"><span class="en" style="letter-spacing:0.66px">Stainless steel</span></div>
<div class="as ctr" style="left:598px;width:68px;top:645.2px;">AISI304/301</div>
<div class="no" style="left:358.3px;top:699.1px;">12</div>
<div class="c" style="left:380.7px;top:691.4px;"><span class="zh">耐压筒</span></div>
<div class="c" style="left:380.7px;top:705.7px;"><span class="en nar" style="transform:scaleX(0.866)">Pressure-resistant cylinder</span></div>
<div class="c" style="left:502.7px;top:691.4px;"><span class="zh">不锈钢</span></div>
<div class="c" style="left:502.7px;top:705.7px;"><span class="en" style="letter-spacing:0.66px">Stainless steel</span></div>
<div class="as ctr" style="left:598px;width:68px;top:697.4px;">AISI304/301</div>
<div class="no" style="left:358.3px;top:751.6px;">13</div>
<div class="c" style="left:380.7px;top:746.1px;"><span class="zh">叶轮隔套</span></div>
<div class="c" style="left:380.7px;top:759.9px;"><span class="en nar" style="transform:scaleX(0.914)">Impeller separating sleeve</span></div>
<div class="c" style="left:502.7px;top:746.1px;"><span class="zh">不锈钢</span></div>
<div class="c" style="left:502.7px;top:756.9px;"><span class="en" style="letter-spacing:0.66px">Stainless steel</span></div>
<div class="as ctr" style="left:598px;width:68px;top:751.2px;">AISI304/301</div>
<div class="no" style="left:358.3px;top:806.2px;">14</div>
<div class="c" style="left:380.7px;top:800.3px;"><span class="zh">轴</span></div>
<div class="c" style="left:380.7px;top:812.9px;"><span class="en" style="letter-spacing:1.23px">Shaft</span></div>
<div class="c" style="left:502.7px;top:800.3px;"><span class="zh">不锈钢</span></div>
<div class="c" style="left:502.7px;top:811.9px;"><span class="en" style="letter-spacing:0.66px">Stainless steel</span></div>
<div class="as ctr" style="left:598px;width:68px;top:804.3px;">AISI316/304</div>
<div class="no" style="left:358.3px;top:858.3px;">15</div>
<div class="c" style="left:380.7px;top:851.5px;"><span class="zh">联轴器</span></div>
<div class="c" style="left:380.7px;top:863.2px;"><span class="en" style="letter-spacing:0.78px">Coupling</span></div>
<div class="c" style="left:502.7px;top:851.5px;"><span class="zh">碳钢</span></div>
<div class="c" style="left:502.7px;top:863.2px;"><span class="en" style="letter-spacing:0.54px">Carbon steel</span></div>
<div class="c" style="left:380.7px;top:905.3px;"><span class="zh">橡胶零件</span></div>
<div class="c" style="left:380.7px;top:916.2px;"><span class="en" style="letter-spacing:0.56px">Rubber parts</span></div>
<div class="c" style="left:502.7px;top:912.5px;"><span class="en" style="letter-spacing:0.43px">FPM</span></div>
</div>
</body>
</html>
